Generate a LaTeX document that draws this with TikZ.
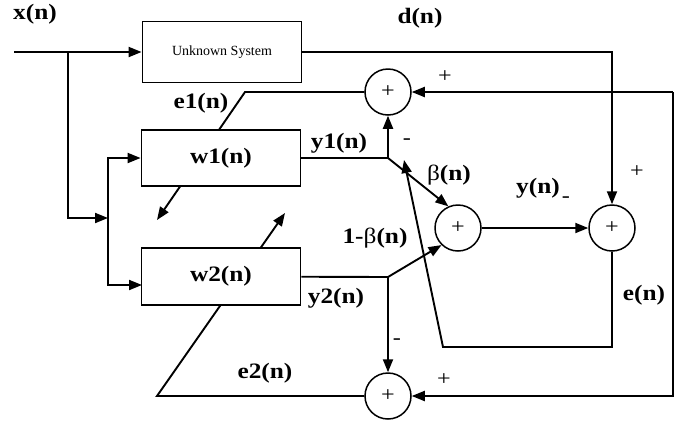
\documentclass[tikz,border=0pt]{standalone}
\usepackage{fontspec}
\setmainfont{Liberation Serif}[FakeStretch=1.15]
\newfontfamily\unkfont{Liberation Serif}
\usetikzlibrary{arrows.meta}

\tikzset{
  blk/.style={draw, line width=1.8pt, fill=white, minimum width=159pt,
    minimum height=57pt, inner sep=0pt},
  summ/.style={draw, circle, line width=1.5pt, fill=white, minimum size=46pt,
    inner sep=0pt, font=\fontsize{21}{21}\selectfont},
  sig/.style={line width=1.9pt},
  arr/.style={sig, -{Triangle[length=13pt,width=10pt]}},
  lbl/.style={font=\fontsize{22}{22}\selectfont\bfseries, inner sep=0pt},
  sgn/.style={font=\fontsize{21}{21}\selectfont, inner sep=0pt}
}

\begin{document}
\begin{tikzpicture}[x=1pt, y=-1pt]
  \useasboundingbox (0,0) rectangle (694,424);

  %% summing junctions
  \node[summ] (sT) at (388,92)  {+};
  \node[summ] (sM) at (458,228) {+};
  \node[summ] (sR) at (612,228) {+};
  \node[summ] (sB) at (388,396) {+};

  %% helper points
  \coordinate (in)   at (14,52);
  \coordinate (sp)   at (68,52);
  \coordinate (jI)   at (108,218);
  \coordinate (w2in) at (142,285);
  \coordinate (jA)   at (388,158);
  \coordinate (jB)   at (388,277);
  \coordinate (eC)   at (443,347);
  \coordinate (eT)   at (404,160);
  \coordinate (rT)   at (673,92);
  \coordinate (rB)   at (673,396);
  \coordinate (e1a)  at (245,92);
  \coordinate (e1b)  at (157,220);
  \coordinate (e2a)  at (157,396);
  \coordinate (e2b)  at (285,213);

  %% adaptation lines (run behind the filter boxes)
  \draw[arr] (sT) -- (e1a) -- (e1b);
  \draw[arr] (sB) -- (e2a) -- (e2b);

  %% blocks
  \node[blk, minimum height=61pt] (unk) at (222,52)
    {\unkfont\fontsize{14}{14}\selectfont Unknown System};
  \node[blk, minimum height=56pt] (w1) at (221,158)
    {\fontsize{22}{22}\selectfont\bfseries w1(n)};
  \node[blk] (w2) at (221,276.5)
    {\fontsize{22}{22}\selectfont\bfseries w2(n)};

  %% input paths
  \draw[arr] (in) -- (unk);
  \draw[arr] (sp) |- (jI);
  \draw[arr] (jI) |- (w1);
  \draw[arr] (jI) |- (w2in);

  %% desired signal
  \draw[arr] (unk) -| (sR);

  %% filter outputs
  \draw[sig] (w1) -- (jA);
  \draw[arr] (jA) -- (sT);
  \draw[arr] (jA) -- (sM.114);
  \draw[sig] (w2) -- (jB);
  \draw[arr] (jB) -- (sB);
  \draw[arr] (jB) -- (sM.226);

  %% combined output and error
  \draw[arr] (sM) -- (sR);
  \draw[arr] (sR) |- (eC) -- (eT);

  %% right feedback
  \draw[arr] (rT) -- (sT);
  \draw[arr] (rT) -- (rB) -- (sB);

  %% labels
  \node[lbl] (lx)  at (35,14)   {x(n)};
  \node[lbl] (ld)  at (420,18)  {d(n)};
  \node[lbl] (le1) at (201,103) {e1(n)};
  \node[lbl] (ly1) at (339,143) {y1(n)};
  \node[lbl] (lb)  at (449,175) {{\mdseries β}(n)};
  \node[lbl] (ly)  at (538,188) {y(n)};
  \node[sgn] (lym) at (566,200) {-};
  \node[lbl] (l1b) at (375,238) {1-{\mdseries β}(n)};
  \node[lbl] (ly2) at (336,298) {y2(n)};
  \node[lbl] (le)  at (644,295) {e(n)};
  \node[lbl] (le2) at (265,373) {e2(n)};
  \node[sgn] (pT)  at (445,77)  {+};
  \node[sgn] (pR)  at (637,172) {+};
  \node[sgn] (pB)  at (444,380) {+};
  \node[sgn] (mT)  at (407,142) {-};
  \node[sgn] (mB)  at (397,342) {-};
\end{tikzpicture}
\end{document}
